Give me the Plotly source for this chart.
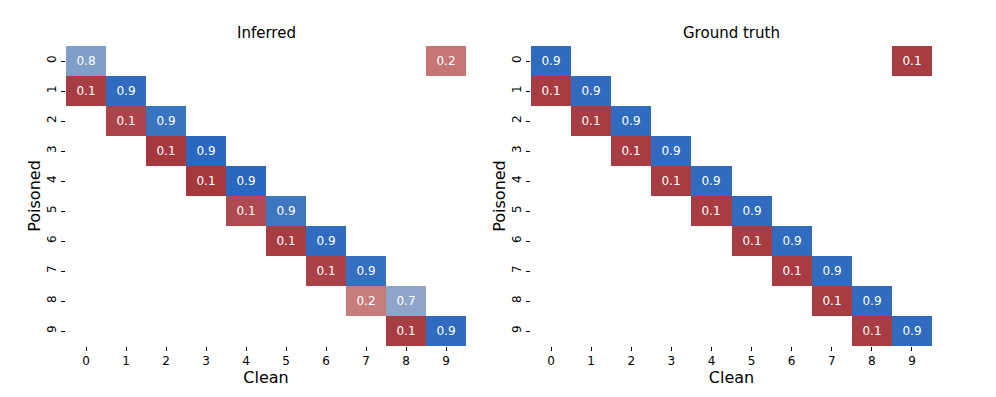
import plotly.graph_objects as go

labels = [str(i) for i in range(10)]

# (poisoned row, clean column, value)
inferred_cells = [
    (0, 0, 0.79), (0, 9, 0.21),
    (1, 0, 0.10), (1, 1, 0.90),
    (2, 1, 0.12), (2, 2, 0.88),
    (3, 2, 0.09), (3, 3, 0.91),
    (4, 3, 0.09), (4, 4, 0.91),
    (5, 4, 0.13), (5, 5, 0.87),
    (6, 5, 0.10), (6, 6, 0.90),
    (7, 6, 0.11), (7, 7, 0.89),
    (8, 7, 0.24), (8, 8, 0.74),
    (9, 8, 0.10), (9, 9, 0.90),
]

truth_cells = [
    (0, 0, 0.9), (0, 9, 0.1),
    (1, 0, 0.1), (1, 1, 0.9),
    (2, 1, 0.1), (2, 2, 0.9),
    (3, 2, 0.1), (3, 3, 0.9),
    (4, 3, 0.1), (4, 4, 0.9),
    (5, 4, 0.1), (5, 5, 0.9),
    (6, 5, 0.1), (6, 6, 0.9),
    (7, 6, 0.1), (7, 7, 0.9),
    (8, 7, 0.1), (8, 8, 0.9),
    (9, 8, 0.1), (9, 9, 0.9),
]

# diverging red/blue, steep near the ends
colorscale = [
    [0.0, "#9e3036"],
    [0.045, "#a5373d"],
    [0.065, "#ad4a4f"],
    [0.105, "#c87575"],
    [0.12, "#c87d7d"],
    [0.25, "#ead3d3"],
    [0.5, "#ffffff"],
    [0.75, "#d5deea"],
    [0.87, "#8ea4c8"],
    [0.895, "#7f9ec8"],
    [0.935, "#3f76c0"],
    [0.955, "#2a68bf"],
    [1.0, "#1f5fbb"],
]


def build(cells):
    z = [[None] * 10 for _ in range(10)]
    txt = [[""] * 10 for _ in range(10)]
    for r, c, v in cells:
        # diagonal = kept label (blue), off-diagonal = flipped (red)
        z[r][c] = v if r == c else -(1 - v)
        txt[r][c] = f"{v:.1f}"
    return z, txt


fig = go.Figure()
for i, cells in enumerate([inferred_cells, truth_cells]):
    z, txt = build(cells)
    fig.add_trace(go.Heatmap(
        z=z, x=list(range(10)), y=list(range(10)), text=txt, texttemplate="%{text}",
        textfont=dict(color="white", size=12, family="DejaVu Sans"),
        colorscale=colorscale, zmin=-1, zmax=1, showscale=False, hoverinfo="skip",
        xaxis="x" if i == 0 else "x2", yaxis="y" if i == 0 else "y2",
    ))

# page body has an 8px margin, so positions below are shifted by it
W, H = 996, 397
font = dict(family="DejaVu Sans", color="black")
ax = dict(tickmode="array", tickvals=list(range(10)), ticktext=labels, ticks="outside",
          ticklen=4, tickwidth=1, tickcolor="black", showgrid=False, zeroline=False,
          showline=False, automargin=False, tickfont=dict(size=12, **font))
xa = dict(ax, range=[-0.5, 9.5], title=dict(text="Clean", font=dict(size=16, **font), standoff=4))
ya = dict(ax, range=[9.5, -0.5], tickangle=-90,
          title=dict(text="Poisoned", font=dict(size=16, **font), standoff=0))
ydom = [(H - 338) / H, (H - 38) / H]

fig.update_layout(
    width=W, height=H, margin=dict(l=0, r=0, t=0, b=0),
    plot_bgcolor="white", paper_bgcolor="white", showlegend=False,
    xaxis=dict(xa, domain=[58 / W, 458 / W], anchor="y"),
    yaxis=dict(ya, domain=ydom, anchor="x"),
    xaxis2=dict(xa, domain=[523 / W, 924 / W], anchor="y2"),
    yaxis2=dict(ya, domain=ydom, anchor="x2"),
    annotations=[
        dict(text="Inferred", x=258 / W, y=(H - 25) / H, xref="paper", yref="paper",
             xanchor="center", yanchor="middle", showarrow=False, font=dict(size=15, **font)),
        dict(text="Ground truth", x=723 / W, y=(H - 25) / H, xref="paper", yref="paper",
             xanchor="center", yanchor="middle", showarrow=False, font=dict(size=15, **font)),
    ],
)

fig.write_html("out.html")
